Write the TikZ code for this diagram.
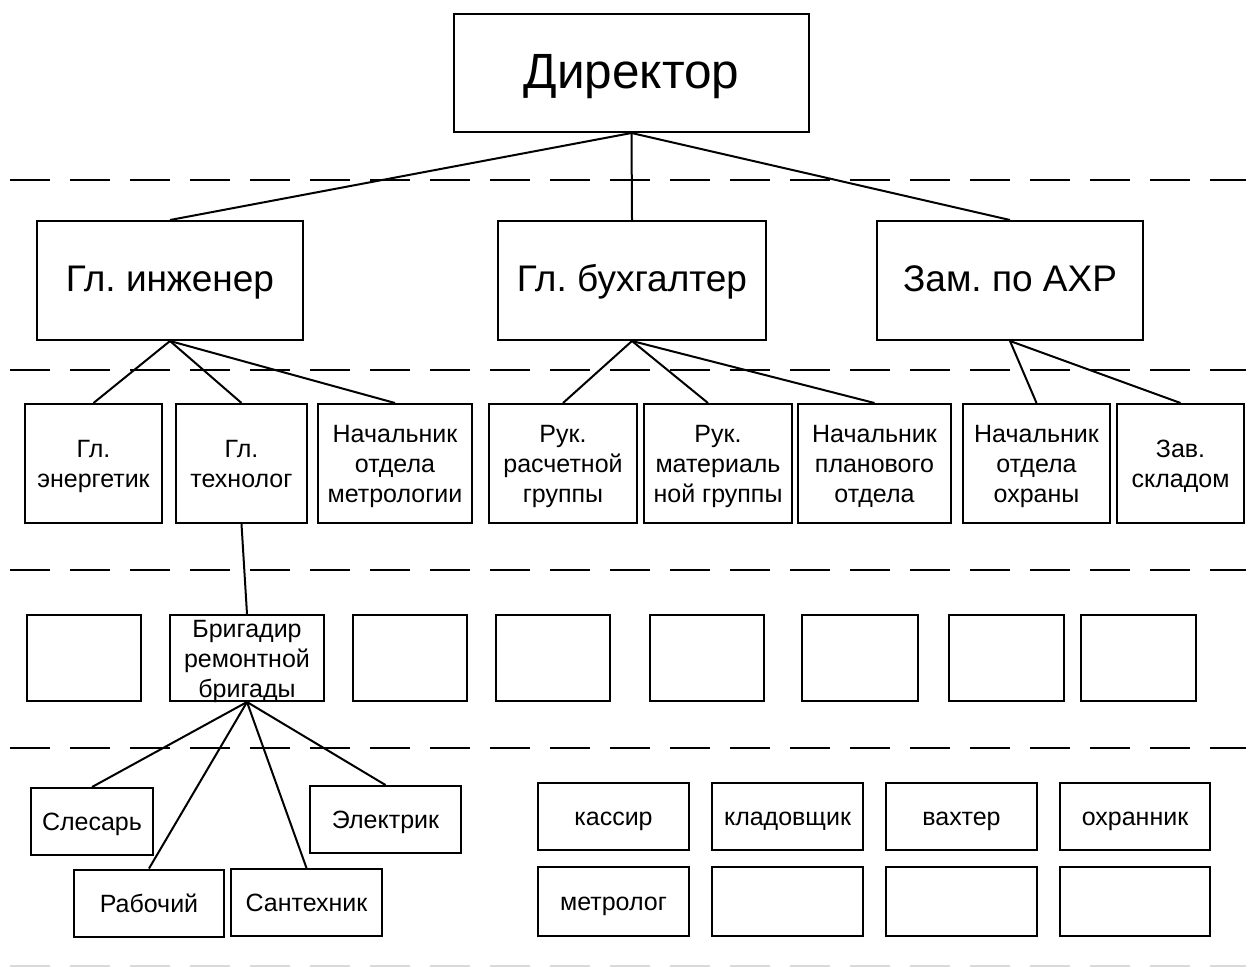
\documentclass[tikz,border=0pt]{standalone}
\usepackage{fontspec}
\setmainfont{Liberation Sans}
% centred block of lines, lowered slightly so that capitals sit on the box middle
\newcommand\cell[2][0.12em]{\raisebox{-#1}[\height][\depth]{\begin{tabular}{@{}c@{}}#2\end{tabular}}}
\begin{document}
\frenchspacing
\begin{tikzpicture}[x=1pt, y=-1pt,
  every node/.style={inner sep=0pt},
  box/.style={draw, line width=2pt, fill=white},
  bigtxt/.style={font=\fontsize{49.5}{59}\selectfont},
  midtxt/.style={font=\fontsize{37}{44}\selectfont},
  smalltxt/.style={font=\fontsize{25}{30}\selectfont},
  link/.style={line width=2pt},
  levelline/.style={line width=2pt, dash pattern=on 40pt off 20pt},
  fadeline/.style={line width=2pt, dash pattern=on 40pt off 20pt, draw=black!15}
]
\useasboundingbox (0,0) rectangle (1246,967);

% level separators
\foreach \yy in {180,370,570,748}
  \draw[levelline] (10,\yy) -- (1246,\yy);
\draw[fadeline] (10,966) -- (1246,966);

% top level
\node[box, bigtxt, minimum width=355pt, minimum height=118pt] (dir) at (631.5,73) {\cell[0.07em]{Директор}};

% second level
\node[box, midtxt, minimum width=266pt, minimum height=119pt] (ing) at (170,280.5) {\cell[0.07em]{Гл. инженер}};
\node[box, midtxt, minimum width=268pt, minimum height=119pt] (buh) at (632,280.5) {\cell[0.07em]{Гл. бухгалтер}};
\node[box, midtxt, minimum width=266pt, minimum height=119pt] (zam) at (1010,280.5) {\cell[0.07em]{Зам. по АХР}};

% third level
\begin{scope}[every node/.append style={box, smalltxt, minimum height=119pt}]
\node[minimum width=137pt] (energ) at (93.5,463.5) {\cell{Гл.\\энергетик}};
\node[minimum width=131pt] (tech)  at (241.5,463.5) {\cell{Гл.\\технолог}};
\node[minimum width=154pt] (metr)  at (395,463.5) {\cell{Начальник\\отдела\\метрологии}};
\node[minimum width=148pt] (rasch) at (563,463.5) {\cell{Рук.\\расчетной\\группы}};
\node[minimum width=148pt] (mat)   at (718,463.5) {\cell{Рук.\\материаль\\ной группы}};
\node[minimum width=153pt] (plan)  at (874.5,463.5) {\cell{Начальник\\планового\\отдела}};
\node[minimum width=147pt] (ohr)   at (1036.5,463.5) {\cell{Начальник\\отдела\\охраны}};
\node[minimum width=127pt] (sklad) at (1180.5,463.5) {\cell{Зав.\\складом}};
\end{scope}

% fourth level
\begin{scope}[every node/.append style={box, smalltxt, minimum height=86pt}]
\node[minimum width=114pt] (e1)   at (84,658) {};
\node[minimum width=154pt, inner ysep=-3pt] (brig) at (247,658) {\cell{Бригадир\\ремонтной\\бригады}};
\node[minimum width=114pt] (e2)   at (410,658) {};
\node[minimum width=114pt] (e3)   at (553,658) {};
\node[minimum width=114pt] (e4)   at (706.5,658) {};
\node[minimum width=116pt] (e5)   at (860,658) {};
\node[minimum width=115pt] (e6)   at (1006.5,658) {};
\node[minimum width=115pt] (e7)   at (1138.5,658) {};
\end{scope}

% workers
\begin{scope}[every node/.append style={box, smalltxt, minimum height=67pt}]
\node[minimum width=122pt] (sles) at (92,821.5) {\cell{Слесарь}};
\node[minimum width=150pt] (rab)  at (149,903) {\cell{Рабочий}};
\node[minimum width=151pt] (sant) at (306.5,902.5) {\cell{Сантехник}};
\node[minimum width=151pt] (elek) at (385.5,819.5) {\cell{Электрик}};
\node[minimum width=151pt] (kas)  at (613.5,816.5) {\cell{кассир}};
\node[minimum width=151pt] (klad) at (787.5,816.5) {\cell{кладовщик}};
\node[minimum width=151pt] (vah)  at (961.5,816.5) {\cell{вахтер}};
\node[minimum width=150pt] (ohrn) at (1135,816.5) {\cell{охранник}};
\node[minimum width=151pt, minimum height=69pt] (metrol) at (613.5,901.5) {\cell{метролог}};
\node[minimum width=151pt, minimum height=69pt] (b1) at (787.5,901.5) {};
\node[minimum width=151pt, minimum height=69pt] (b2) at (961.5,901.5) {};
\node[minimum width=150pt, minimum height=69pt] (b3) at (1135,901.5) {};
\end{scope}

% connectors
\draw[link] (dir.south) -- (ing.north);
\draw[link] (dir.south) -- (buh.north);
\draw[link] (dir.south) -- (zam.north);

\draw[link] (ing.south) -- (energ.north);
\draw[link] (ing.south) -- (tech.north);
\draw[link] (ing.south) -- (metr.north);

\draw[link] (buh.south) -- (rasch.north);
\draw[link] (buh.south) -- ([xshift=-10pt]mat.north);
\draw[link] (buh.south) -- (plan.north);

\draw[link] (zam.south) -- (ohr.north);
\draw[link] (zam.south) -- (sklad.north);

\draw[link] (tech.south) -- (brig.north);

\draw[link] (brig.south) -- (sles.north);
\draw[link] (brig.south) -- (rab.north);
\draw[link] (brig.south) -- (sant.north);
\draw[link] (brig.south) -- (elek.north);
\end{tikzpicture}
\end{document}
